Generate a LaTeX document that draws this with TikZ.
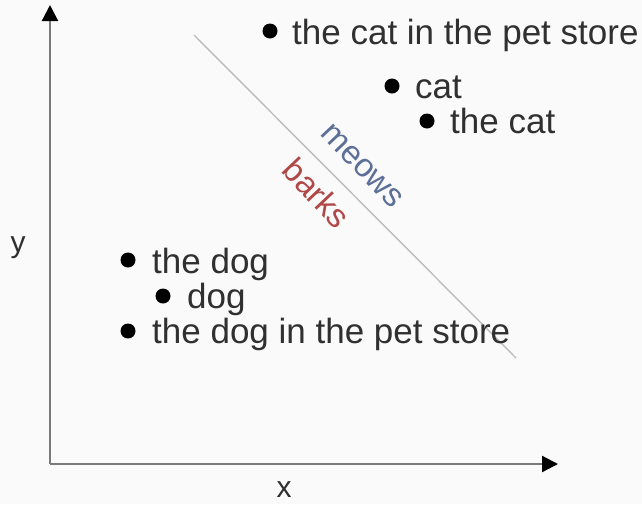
\documentclass[tikz,border=0pt]{standalone}
\usepackage{fontspec}
\setmainfont{Liberation Sans}
\usetikzlibrary{arrows.meta}
\definecolor{bg}{HTML}{FAFAFA}
\definecolor{txt}{HTML}{303030}
\definecolor{axisc}{HTML}{7A7A7A}
\definecolor{sepc}{HTML}{BDBDBD}
\definecolor{meowc}{HTML}{5C6F96}
\definecolor{barkc}{HTML}{B04848}
\tikzset{
  dot/.style={circle, fill=black, inner sep=0pt, minimum size=15pt},
  lbl/.style={anchor=base west, inner sep=0pt, text=txt, font=\fontsize{35}{40}\selectfont},
  axislbl/.style={text=txt, inner sep=0pt, font=\fontsize{30}{36}\selectfont},
  axisline/.style={draw=axisc, line width=2.2pt, -{Triangle[length=16pt,width=16pt,color=black]}},
  sepline/.style={draw=sepc, line width=1.4pt},
  wordlbl/.style={inner sep=0pt, rotate=-46.5, font=\fontsize{33}{38}\selectfont}
}
\begin{document}
\begin{tikzpicture}[x=1pt,y=-1pt]
\fill[bg] (0,0) rectangle (642,504);
\useasboundingbox (0,0) rectangle (642,504);
% axes
\coordinate (O) at (50,464);
\coordinate (ytip) at (50,5);
\coordinate (xtip) at (558,464);
\draw[axisline] (O) -- (ytip);
\draw[axisline] (O) -- (xtip);
\node[axislbl] (ylab) at (18,248) {y};
\node[axislbl] (xlab) at (284,490) {x};
% separator
\coordinate (s1) at (194,35);
\coordinate (s2) at (516,358);
\draw[sepline] (s1) -- (s2);
\node[wordlbl, text=meowc] (meows) at (362,166) {meows};
\node[wordlbl, text=barkc] (barks) at (317,193) {barks};
% cat cluster
\node[dot] (d1) at (270,31) {};
\node[lbl] (t1) at (292,44) {the cat in the pet store};
\node[dot] (d2) at (392,86) {};
\node[lbl] (t2) at (415,98) {cat};
\node[dot] (d3) at (427,121) {};
\node[lbl] (t3) at (450,133) {the cat};
% dog cluster
\node[dot] (d4) at (128,260) {};
\node[lbl] (t4) at (152,273) {the dog};
\node[dot] (d5) at (163,296) {};
\node[lbl] (t5) at (187,308) {dog};
\node[dot] (d6) at (128,331) {};
\node[lbl] (t6) at (152,343) {the dog in the pet store};
\end{tikzpicture}
\end{document}
